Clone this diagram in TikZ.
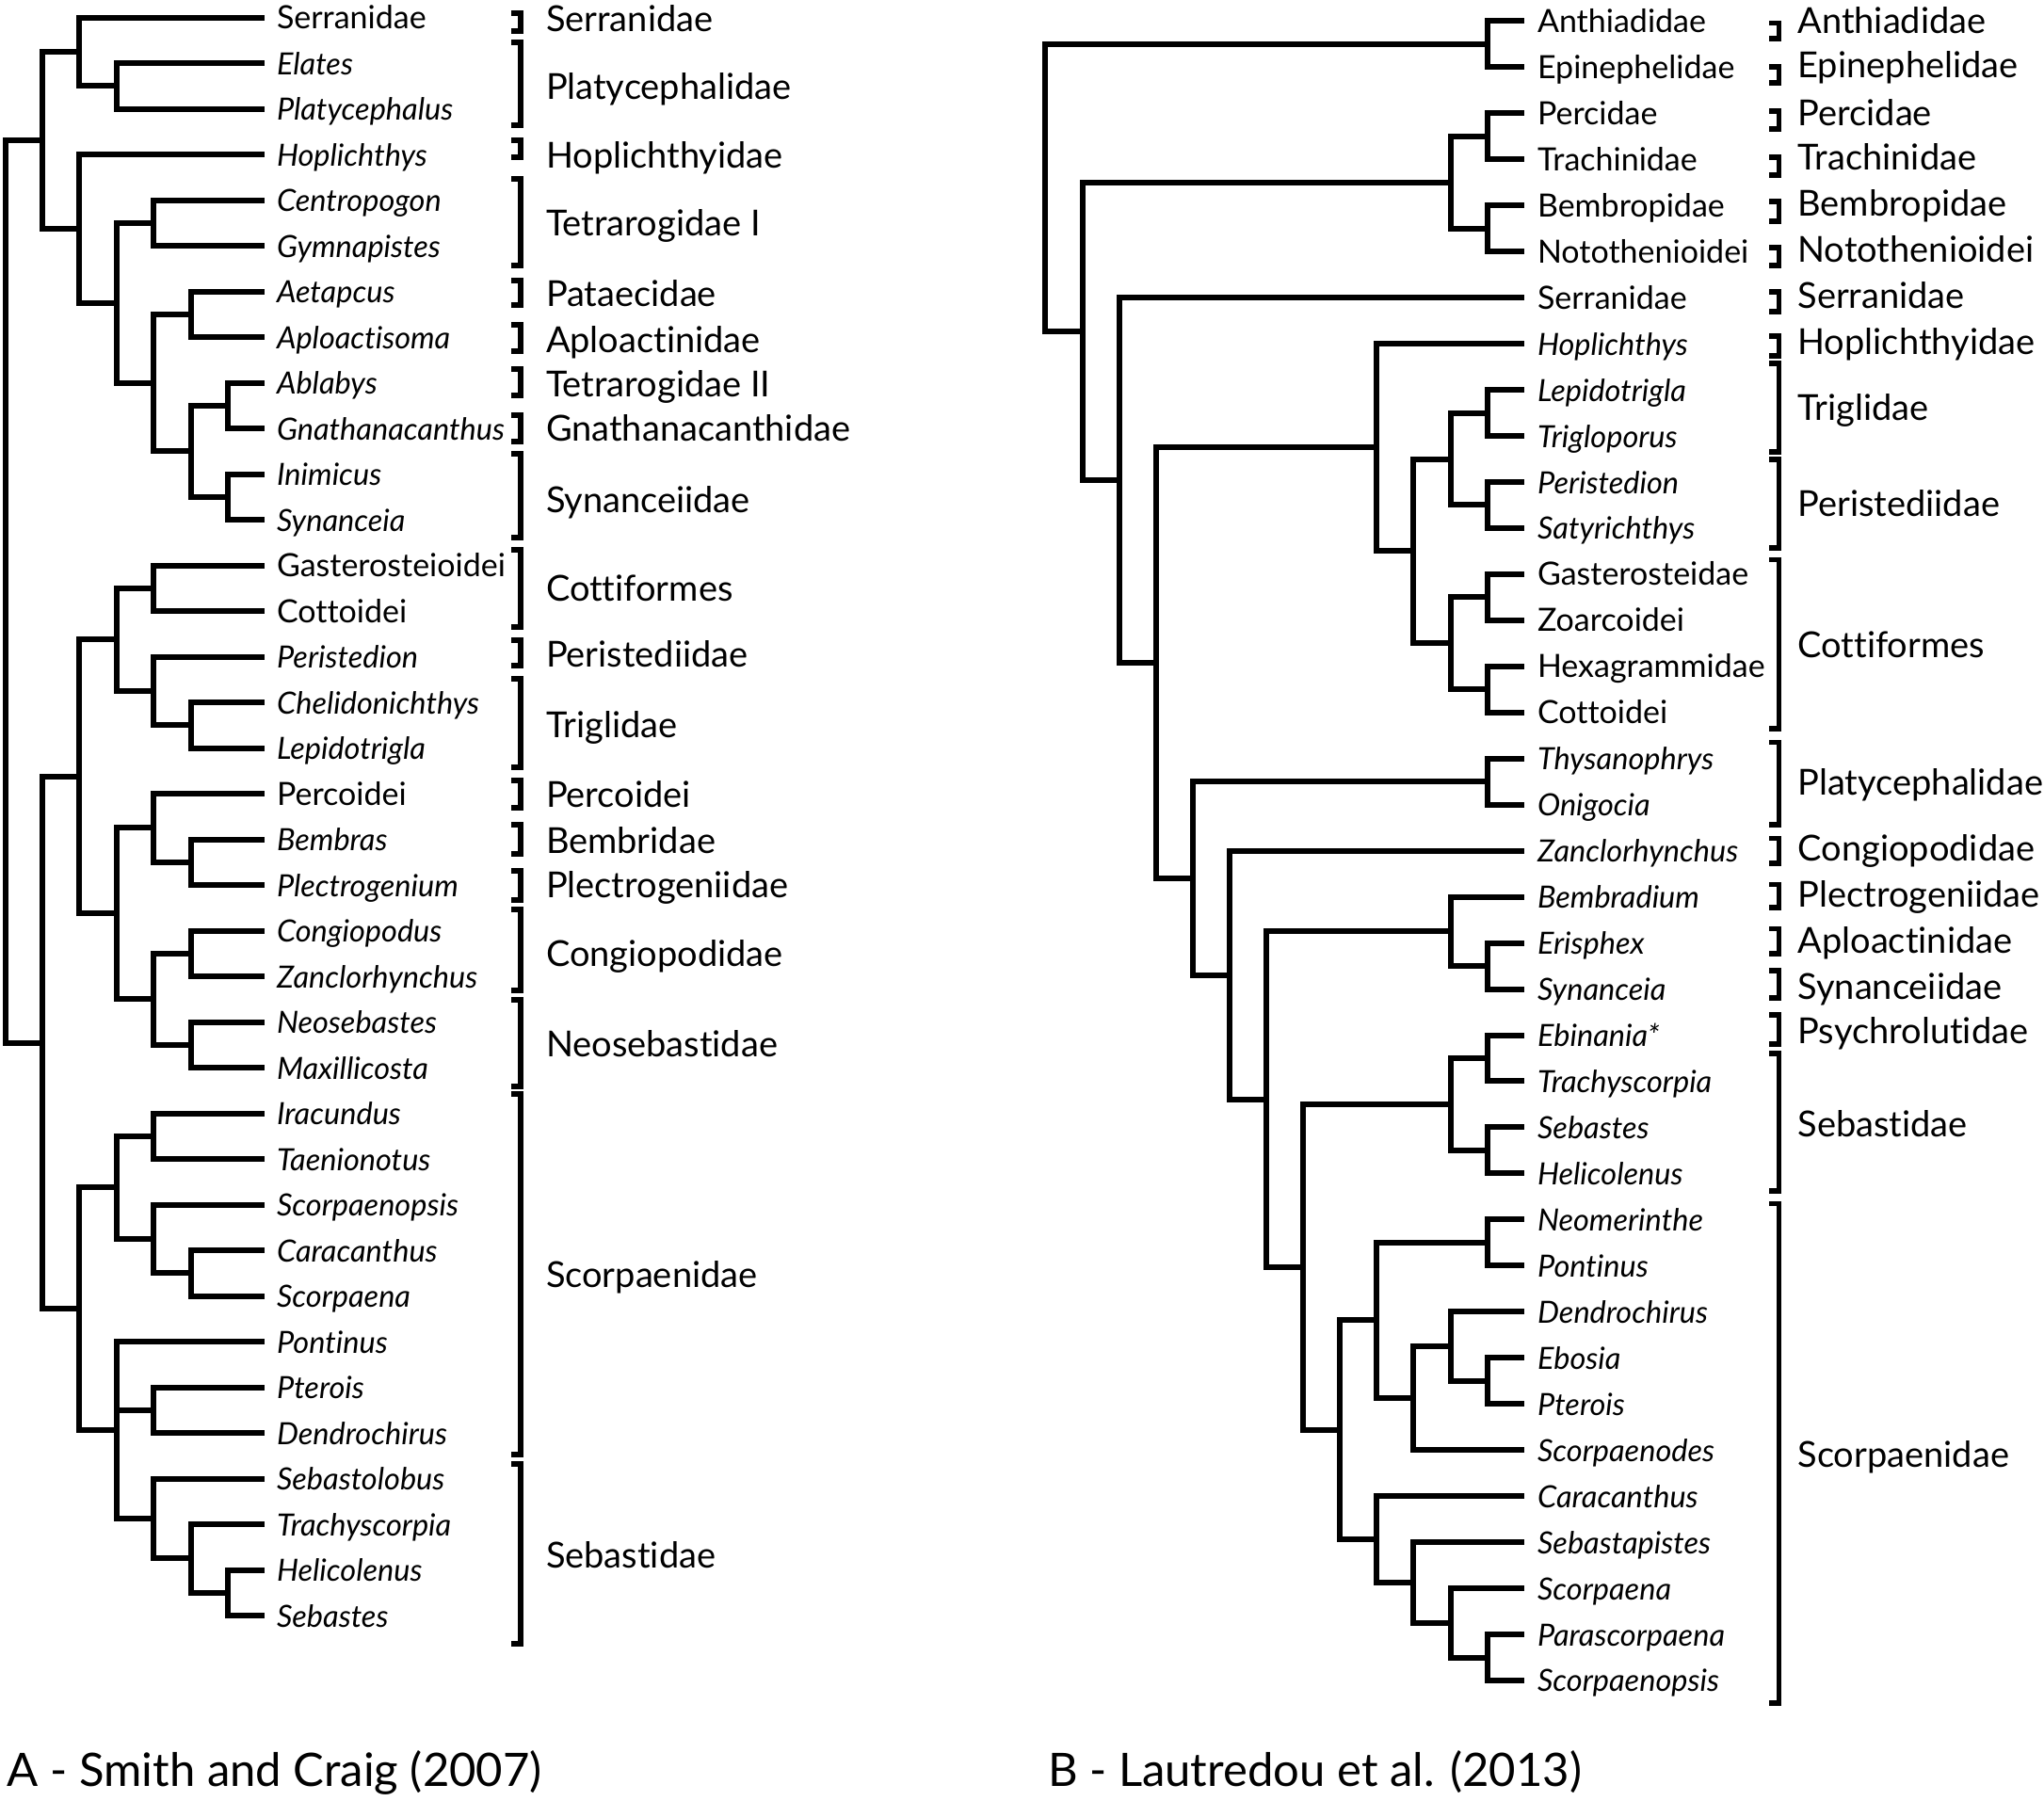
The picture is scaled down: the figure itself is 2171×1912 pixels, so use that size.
\documentclass[tikz,border=0pt]{standalone}
\usepackage{fontspec}
\setmainfont{Lato}[Ligatures=NoCommon]
\newcommand\inA[3]{\coordinate (#1) at ({5.5+39.4*#2},#3);}
\newcommand\inB[3]{\coordinate (#1) at ({1110.4+39.1*#2},#3);}
\newcommand\edges[2]{\foreach \c in {#2} {\draw (#1) |- (\c);}}
\newcommand\ti[1]{{\fontsize{32.5}{32.5}\selectfont\itshape #1}}
\begin{document}
\begin{tikzpicture}[x=1pt,y=-1pt,line width=6pt,line join=miter,
  br/.style={line width=5.2pt},
  tipl/.style={anchor=base west,inner sep=0pt,font=\fontsize{34}{34}\selectfont},
  grpl/.style={anchor=base west,inner sep=0pt,font=\fontsize{38}{38}\selectfont},
  capl/.style={anchor=base west,inner sep=0pt,font=\fontsize{49}{49}\selectfont}]
\useasboundingbox (0,0) rectangle (2171,1912);
% ---------------- Tree A ----------------
\foreach \i/\t in {0/Serranidae,1/\ti{Elates},2/\ti{Platycephalus},3/\ti{Hoplichthys},
 4/\ti{Centropogon},5/\ti{Gymnapistes},6/\ti{Aetapcus},7/\ti{Aploactisoma},
 8/\ti{Ablabys},9/\ti{Gnathanacanthus},10/\ti{Inimicus},11/\ti{Synanceia},
 12/Gasterosteioidei,13/Cottoidei,14/\ti{Peristedion},15/\ti{Chelidonichthys},
 16/\ti{Lepidotrigla},17/Percoidei,18/\ti{Bembras},19/\ti{Plectrogenium},
 20/\ti{Congiopodus},21/\ti{Zanclorhynchus},22/\ti{Neosebastes},23/\ti{Maxillicosta},
 24/\ti{Iracundus},25/\ti{Taenionotus},26/\ti{Scorpaenopsis},27/\ti{Caracanthus},
 28/\ti{Scorpaena},29/\ti{Pontinus},30/\ti{Pterois},31/\ti{Dendrochirus},
 32/\ti{Sebastolobus},33/\ti{Trachyscorpia},34/\ti{Helicolenus},35/\ti{Sebastes}}
{\coordinate (a\i) at (281.3,{18.5+48.5*\i});
 \node[tipl] (la\i) at (291,{18.5+48.5*\i+12}) {\t};}
\inA{nA1}{3}{91.25}
\inA{nA2}{2}{54.9}
\inA{nA3}{4}{236.75}
\inA{nA4}{5}{333.75}
\inA{nA5}{6}{430.75}
\inA{nA6}{6}{527.75}
\inA{nA7}{5}{479.25}
\inA{nA8}{4}{406.5}
\inA{nA9}{3}{321.6}
\inA{nA10}{2}{242.8}
\inA{nA11}{1}{148.9}
\inA{nB1}{4}{624.75}
\inA{nB2}{5}{770.25}
\inA{nB3}{4}{733.9}
\inA{nB4}{3}{679.3}
\inA{nB5}{5}{915.75}
\inA{nB6}{4}{879.4}
\inA{nB7}{5}{1012.75}
\inA{nB8}{5}{1109.75}
\inA{nB9}{4}{1061.25}
\inA{nB10}{3}{970.3}
\inA{nB11}{2}{824.8}
\inA{nC1}{4}{1206.75}
\inA{nC2}{5}{1352.25}
\inA{nC3}{4}{1315.9}
\inA{nC4}{3}{1261.3}
\inA{nC5}{4}{1497.75}
\inA{nC6}{6}{1691.75}
\inA{nC7}{5}{1655.4}
\inA{nC8}{4}{1612.9}
\inA{nC9}{3}{1519}
\inA{nC10}{2}{1390.1}
\inA{nC11}{1}{1107.5}
\inA{rootA}{0}{628.2}
\edges{rootA}{nA11,nC11}
\edges{nA11}{nA2,nA10}
\edges{nA2}{a0,nA1}
\edges{nA1}{a1,a2}
\edges{nA10}{a3,nA9}
\edges{nA9}{nA3,nA8}
\edges{nA3}{a4,a5}
\edges{nA8}{nA4,nA7}
\edges{nA4}{a6,a7}
\edges{nA7}{nA5,nA6}
\edges{nA5}{a8,a9}
\edges{nA6}{a10,a11}
\edges{nC11}{nB11,nC10}
\edges{nB11}{nB4,nB10}
\edges{nB4}{nB1,nB3}
\edges{nB1}{a12,a13}
\edges{nB3}{a14,nB2}
\edges{nB2}{a15,a16}
\edges{nB10}{nB6,nB9}
\edges{nB6}{a17,nB5}
\edges{nB5}{a18,a19}
\edges{nB9}{nB7,nB8}
\edges{nB7}{a20,a21}
\edges{nB8}{a22,a23}
\edges{nC10}{nC4,nC9}
\edges{nC4}{nC1,nC3}
\edges{nC1}{a24,a25}
\edges{nC3}{a26,nC2}
\edges{nC2}{a27,a28}
\edges{nC9}{a29,nC5,nC8}
\edges{nC5}{a30,a31}
\edges{nC8}{a32,nC7}
\edges{nC7}{a33,nC6}
\edges{nC6}{a34,a35}
% brackets A
\foreach \t/\bt/\bb/\ly [count=\k] in {Serranidae/14/33/20,Platycephalidae/45/133/92,
 Hoplichthyidae/149/167/165,Tetrarogidae I/190/282/237,Pataecidae/298/324/312,
 Aploactinidae/345/373/361,Tetrarogidae II/392/420/408,Gnathanacanthidae/441/469/455,
 Synanceiidae/482/571/531,Cottiformes/584/666/625,Peristediidae/680/707/695,
 Triglidae/721/815/770,Percoidei/829/858/844,Bembridae/876/907/893,
 Plectrogeniidae/925/956/940,Congiopodidae/966/1052/1013,Neosebastidae/1062/1154/1109,
 Scorpaenidae/1162/1545/1354,Sebastidae/1555/1746/1652}
{\draw[br] (543,\bt) -- (553,\bt) -- (553,\bb) -- (543,\bb);
 \node[grpl] (ga\k) at (577,\ly+13.5) {\t};}
% ---------------- Tree B ----------------
\foreach \i/\t in {0/Anthiadidae,1/Epinephelidae,2/Percidae,3/Trachinidae,4/Bembropidae,
 5/Notothenioidei,6/Serranidae,7/\ti{Hoplichthys},8/\ti{Lepidotrigla},9/\ti{Trigloporus},
 10/\ti{Peristedion},11/\ti{Satyrichthys},12/Gasterosteidae,13/Zoarcoidei,14/Hexagrammidae,
 15/Cottoidei,16/\ti{Thysanophrys},17/\ti{Onigocia},18/\ti{Zanclorhynchus},
 19/\ti{Bembradium},20/\ti{Erisphex},21/\ti{Synanceia},22/\ti{Ebinania*},
 23/\ti{Trachyscorpia},24/\ti{Sebastes},25/\ti{Helicolenus},26/\ti{Neomerinthe},
 27/\ti{Pontinus},28/\ti{Dendrochirus},29/\ti{Ebosia},30/\ti{Pterois},
 31/\ti{Scorpaenodes},32/\ti{Caracanthus},33/\ti{Sebastapistes},34/\ti{Scorpaena},
 35/\ti{Parascorpaena},36/\ti{Scorpaenopsis}}
{\coordinate (b\i) at (1618.6,{22.4+48.96*\i});
 \node[tipl] (lb\i) at (1630,{22.4+48.96*\i+12}) {\t};}
\inB{m1}{12}{46.88}
\inB{m2}{12}{144.8}
\inB{m3}{12}{242.72}
\inB{m4}{11}{193.76}
\inB{m5}{12}{438.56}
\inB{m6}{12}{536.48}
\inB{m7}{11}{487.52}
\inB{m8}{12}{634.4}
\inB{m9}{12}{732.32}
\inB{m10}{11}{683.36}
\inB{m11}{10}{585.44}
\inB{m12}{9}{475.28}
\inB{m13}{12}{830.24}
\inB{m14}{12}{1026.08}
\inB{m15}{11}{989.36}
\inB{m16}{12}{1124.0}
\inB{m17}{12}{1221.92}
\inB{m18}{11}{1172.96}
\inB{m19}{12}{1319.84}
\inB{m20}{12}{1466.72}
\inB{m21}{11}{1430.0}
\inB{m22}{10}{1485.08}
\inB{m23}{9}{1402.46}
\inB{m24}{12}{1760.48}
\inB{m25}{11}{1723.76}
\inB{m26}{10}{1680.92}
\inB{m27}{9}{1635.02}
\inB{m28}{8}{1518.74}
\inB{m29}{7}{1345.85}
\inB{m30}{6}{1167.6}
\inB{m31}{5}{1035.64}
\inB{m32}{4}{932.94}
\inB{m33}{3}{704.11}
\inB{m34}{2}{510.14}
\inB{m35}{1}{351.95}
\inB{rootB}{0}{199.4}
\edges{rootB}{m1,m35}
\edges{m1}{b0,b1}
\edges{m35}{m4,m34}
\edges{m4}{m2,m3}
\edges{m2}{b2,b3}
\edges{m3}{b4,b5}
\edges{m34}{b6,m33}
\edges{m33}{m12,m32}
\edges{m12}{b7,m11}
\edges{m11}{m7,m10}
\edges{m7}{m5,m6}
\edges{m5}{b8,b9}
\edges{m6}{b10,b11}
\edges{m10}{m8,m9}
\edges{m8}{b12,b13}
\edges{m9}{b14,b15}
\edges{m32}{m13,m31}
\edges{m13}{b16,b17}
\edges{m31}{b18,m30}
\edges{m30}{m15,m29}
\edges{m15}{b19,m14}
\edges{m14}{b20,b21}
\edges{m29}{m18,m28}
\edges{m18}{m16,m17}
\edges{m16}{b22,b23}
\edges{m17}{b24,b25}
\edges{m28}{m23,m27}
\edges{m23}{m19,m22}
\edges{m19}{b26,b27}
\edges{m22}{m21,b31}
\edges{m21}{b28,m20}
\edges{m20}{b29,b30}
\edges{m27}{b32,m26}
\edges{m26}{b33,m25}
\edges{m25}{b34,m24}
\edges{m24}{b35,b36}
% brackets B
\foreach \t/\bt/\bb/\ly [count=\k] in {Anthiadidae/24.5/41/22,Epinephelidae/71/88/69,
 Percidae/118/137/120,Trachinidae/167/186/167,Bembropidae/214/235/216,
 Notothenioidei/263/282/265,Serranidae/310/331/314,Hoplichthyidae/357/378/363,
 Triglidae/386/480/433,Peristediidae/488/582/535,Cottiformes/594.7/774/684.5,
 Platycephalidae/788.6/876/831,Congiopodidae/890.6/917/900.8,Plectrogeniidae/939.6/964/950,
 Aploactinidae/986.5/1013/998.8,Synanceiidae/1031/1060/1047.7,Psychrolutidae/1078/1109/1094.7,
 Sebastidae/1119/1265/1193.6,Scorpaenidae/1278.5/1809/1545}
{\draw[br] (1879,\bt) -- (1889.5,\bt) -- (1889.5,\bb) -- (1879,\bb);
 \node[grpl] (gb\k) at (1906.5,\ly+13.5) {\t};}
% captions
\node[capl] (capA) at (5,1897) {A - Smith and Craig (2007)};
\node[capl] (capB) at (1110,1897) {B - Lautredou et al. (2013)};
\end{tikzpicture}
\end{document}
